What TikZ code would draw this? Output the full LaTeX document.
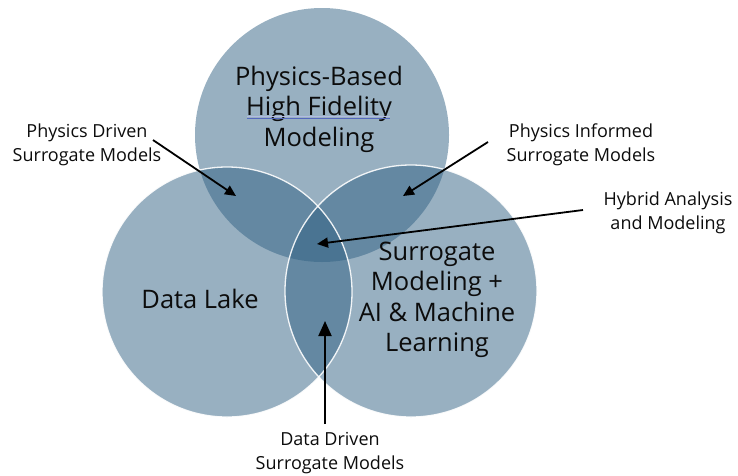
\documentclass[tikz,border=0pt]{standalone}
\usepackage{fontspec}
\setmainfont{Open Sans}
\usetikzlibrary{arrows.meta}
\definecolor{vennblue}{RGB}{49,97,131}
\definecolor{inktext}{RGB}{12,12,12}
\definecolor{spellblue}{RGB}{85,105,190}
\tikzset{
  venn/.style={fill=vennblue, fill opacity=0.5, draw=none},
  vennrim/.style={draw=white, line width=1.3pt, draw opacity=0.9},
  bigtext/.style={text=inktext, align=center, inner sep=0pt,
    font=\fontsize{25.5}{30.5}\selectfont},
  smalltext/.style={text=inktext, align=center, inner sep=0pt,
    font=\fontsize{18}{24}\selectfont},
  pointer/.style={draw=black, line width=1.8pt,
    -{Triangle[length=11pt,width=10pt]}},
  bigpointer/.style={draw=black, line width=2pt,
    -{Triangle[length=15pt,width=13pt]}}
}
\begin{document}
\begin{tikzpicture}[x=1pt,y=-1pt]
  \useasboundingbox (0,0) rectangle (738,475);

  % the three overlapping circles
  \fill[venn] (322,135) circle (127);
  \fill[venn] (227,292) circle (125);
  \fill[venn] (411,291) circle (126);
  \draw[vennrim] (227,292) circle (125);
  \draw[vennrim] (411,291) circle (126);

  % circle titles
  \node[bigtext] (phys) at (319,109) {Physics-Based\\High Fidelity\\Modeling};
  \node[bigtext] (lake) at (200,299) {Data Lake};
  \node[bigtext] (surr) at (437,300) {Surrogate\\Modeling +\\AI \& Machine\\Learning};

  % double underline beneath the second title line
  \coordinate (ulA) at (247,118);
  \coordinate (ulB) at (390,118);
  \draw[spellblue, line width=0.8pt] (ulA) -- (ulB);
  \draw[spellblue!45, line width=0.6pt] ([yshift=2pt]ulA) -- ([yshift=2pt]ulB);

  % outer labels
  \node[smalltext] (pd) at (87,145) {Physics Driven\\Surrogate Models};
  \node[smalltext] (pi) at (581,145) {Physics Informed\\Surrogate Models};
  \node[smalltext] (ha) at (668,213) {Hybrid Analysis\\and Modeling};
  \node[smalltext] (dd) at (330,453) {Data Driven\\Surrogate Models};

  % arrow ends
  \coordinate (pdS) at (153,140);
  \coordinate (pdT) at (236,196);
  \coordinate (piS) at (488,142);
  \coordinate (piT) at (403,196);
  \coordinate (haS) at (583,210);
  \coordinate (haT) at (317,244);
  \coordinate (ddS) at (325,424);
  \coordinate (ddT) at (325,321);

  \draw[pointer] (pdS) -- (pdT);
  \draw[pointer] (piS) -- (piT);
  \draw[pointer] (haS) -- (haT);
  \draw[bigpointer] (ddS) -- (ddT);
\end{tikzpicture}
\end{document}
